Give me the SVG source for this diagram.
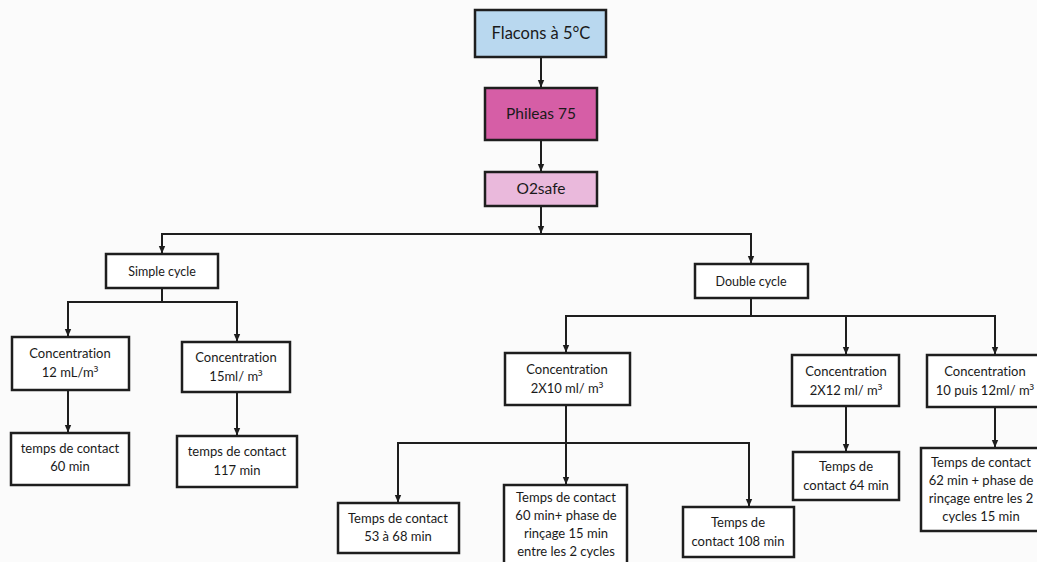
<svg xmlns="http://www.w3.org/2000/svg" width="1037" height="562" viewBox="0 0 1037 562">
<style>
.bg{fill:#fbfbfb}
.box{fill:#ffffff;stroke:#1e1e1e;stroke-width:2.5}
.t{font-family:Lato,"Open Sans","Liberation Sans",sans-serif;fill:#1a1a1a;text-anchor:middle;font-size:13px;font-variant-ligatures:none;font-feature-settings:"liga" 0}
.big{font-size:16.5px}
.mid{font-size:12.5px}
.sup{font-family:"Noto Sans","Open Sans",sans-serif}
.c{fill:none;stroke:#1e1e1e;stroke-width:2}
</style>
<defs>
<marker id="ah" markerWidth="8" markerHeight="8" refX="7" refY="4" orient="auto" markerUnits="userSpaceOnUse">
<path d="M0,0.8 L7.5,4 L0,7.2 Z" fill="#1e1e1e"/>
</marker>
</defs>
<rect class="bg" x="0" y="0" width="1037" height="562"/>
<g id="connectors">
<path class="c" d="M541 57 V87" marker-end="url(#ah)"/>
<path class="c" d="M541 140 V171" marker-end="url(#ah)"/>
<path class="c" d="M541 206 V233" marker-end="url(#ah)"/>
<path class="c" d="M541 234 H162 V253" marker-end="url(#ah)"/>
<path class="c" d="M541 234 H751 V263" marker-end="url(#ah)"/>
<path class="c" d="M162 288 V302"/>
<path class="c" d="M162 302 H68 V336" marker-end="url(#ah)"/>
<path class="c" d="M162 302 H237 V341" marker-end="url(#ah)"/>
<path class="c" d="M68 390 V432" marker-end="url(#ah)"/>
<path class="c" d="M237 392 V435" marker-end="url(#ah)"/>
<path class="c" d="M751 298 V316"/>
<path class="c" d="M751 316 H566 V352" marker-end="url(#ah)"/>
<path class="c" d="M751 316 H846 V354" marker-end="url(#ah)"/>
<path class="c" d="M751 316 H995 V354" marker-end="url(#ah)"/>
<path class="c" d="M566 405 V443"/>
<path class="c" d="M566 443 H398 V502" marker-end="url(#ah)"/>
<path class="c" d="M566 443 V484" marker-end="url(#ah)"/>
<path class="c" d="M566 443 H749 V506" marker-end="url(#ah)"/>
<path class="c" d="M846 406 V451" marker-end="url(#ah)"/>
<path class="c" d="M995 407 V447" marker-end="url(#ah)"/>
</g>
<g id="flacons">
<rect class="box" x="475" y="10" width="131" height="47" style="fill:#b9d8ef"/>
<text class="t big" x="541" y="39">Flacons à 5°C</text>
</g>
<g id="phileas">
<rect class="box" x="485" y="88" width="112" height="52" style="fill:#d65ea6"/>
<text class="t big" x="541" y="119" style="font-size:15.5px">Phileas 75</text>
</g>
<g id="o2safe">
<rect class="box" x="485" y="172" width="112" height="34" style="fill:#eab9dc"/>
<text class="t big" x="541" y="194" style="font-size:15.5px">O2safe</text>
</g>
<g id="simple">
<rect class="box" x="106" y="254" width="112" height="34"/>
<text class="t mid" x="162" y="276">Simple cycle</text>
</g>
<g id="double">
<rect class="box" x="695" y="264" width="113" height="34"/>
<text class="t mid" x="751" y="286">Double cycle</text>
</g>
<g id="c12">
<rect class="box" x="12" y="337" width="117" height="53"/>
<text class="t" x="70" y="358">Concentration</text>
<text class="t" x="70" y="377">12 mL/m<tspan class="sup">³</tspan></text>
</g>
<g id="c15">
<rect class="box" x="182" y="342" width="108" height="50"/>
<text class="t" x="236" y="362">Concentration</text>
<text class="t" x="236" y="381">15ml/ m<tspan class="sup">³</tspan></text>
</g>
<g id="t60">
<rect class="box" x="11" y="433" width="118" height="52"/>
<text class="t" x="70" y="453">temps de contact</text>
<text class="t" x="70" y="471">60 min</text>
</g>
<g id="t117">
<rect class="box" x="177" y="436" width="120" height="51"/>
<text class="t" x="237" y="456">temps de contact</text>
<text class="t" x="237" y="475">117 min</text>
</g>
<g id="c2x10">
<rect class="box" x="505" y="353" width="125" height="52"/>
<text class="t" x="567" y="374">Concentration</text>
<text class="t" x="567" y="393">2X10 ml/ m<tspan class="sup">³</tspan></text>
</g>
<g id="c2x12">
<rect class="box" x="792" y="355" width="107" height="51"/>
<text class="t" x="846" y="376">Concentration</text>
<text class="t" x="846" y="395">2X12 ml/ m<tspan class="sup">³</tspan></text>
</g>
<g id="c10puis">
<rect class="box" x="927" y="355" width="116" height="52"/>
<text class="t" x="985" y="376">Concentration</text>
<text class="t" x="985" y="395">10 puis 12ml/ m<tspan class="sup">³</tspan></text>
</g>
<g id="t53">
<rect class="box" x="338" y="503" width="121" height="50"/>
<text class="t" x="398" y="523">Temps de contact</text>
<text class="t" x="398" y="541">53 à 68 min</text>
</g>
<g id="t60p">
<rect class="box" x="504" y="485" width="123" height="85"/>
<text class="t" x="566" y="502">Temps de contact</text>
<text class="t" x="566" y="520">60 min+ phase de</text>
<text class="t" x="566" y="538">rinçage 15 min</text>
<text class="t" x="566" y="556">entre les 2 cycles</text>
</g>
<g id="t108">
<rect class="box" x="683" y="507" width="111" height="50"/>
<text class="t" x="738" y="527">Temps de</text>
<text class="t" x="738" y="546">contact 108 min</text>
</g>
<g id="t64">
<rect class="box" x="793" y="452" width="106" height="48"/>
<text class="t" x="846" y="471">Temps de</text>
<text class="t" x="846" y="490">contact 64 min</text>
</g>
<g id="t62">
<rect class="box" x="921" y="448" width="120" height="83"/>
<text class="t" x="981" y="467">Temps de contact</text>
<text class="t" x="981" y="485">62 min + phase de</text>
<text class="t" x="981" y="503">rinçage entre les 2</text>
<text class="t" x="981" y="521">cycles 15 min</text>
</g>
</svg>
